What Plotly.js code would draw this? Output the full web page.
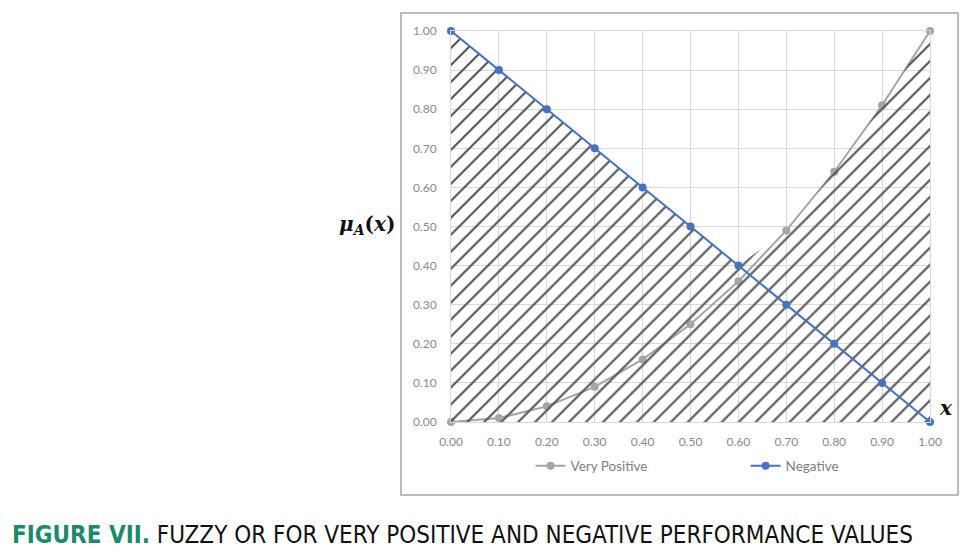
<!DOCTYPE html>
<html>
<head>
<meta charset="utf-8">
<script src="https://cdn.plot.ly/plotly-3.0.1.min.js"></script>
<style>html,body{margin:0;padding:0;background:#fff;}#chart{width:980px;height:555px;}</style>
</head>
<body>
<div id="chart"></div>
<script>
const xValues = [0.00, 0.10, 0.20, 0.30, 0.40, 0.50, 0.60, 0.70, 0.80, 0.90, 1.00];
const veryPositive = [0.00, 0.01, 0.04, 0.09, 0.16, 0.25, 0.36, 0.49, 0.64, 0.81, 1.00];
const negative = [1.00, 0.90, 0.80, 0.70, 0.60, 0.50, 0.40, 0.30, 0.20, 0.10, 0.00];
const tickValues = [0.00, 0.10, 0.20, 0.30, 0.40, 0.50, 0.60, 0.70, 0.80, 0.90, 1.00];
const tickLabels = ["0.00","0.10","0.20","0.30","0.40","0.50","0.60","0.70","0.80","0.90","1.00"];
const seriesNames = ["Very Positive", "Negative"];

// fuzzy OR = max of the two series
const fuzzyOr = xValues.map((_, i) => Math.max(veryPositive[i], negative[i]));

const tickFont = {family: "Lato, 'Open Sans', sans-serif", size: 12, color: "#8a8a8a"};
const legendFont = {family: "Lato, 'Open Sans', sans-serif", size: 13.5, color: "#7f7f7f"};

const traces = [
  {
    x: xValues, y: veryPositive, name: seriesNames[0], type: "scatter", mode: "lines+markers",
    line: {color: "#a5a5a5", width: 2}, marker: {color: "#a5a5a5", size: 8},
    cliponaxis: false, legend: "legend"
  },
  {
    x: xValues, y: fuzzyOr, type: "scatter", mode: "none", fill: "tozeroy",
    fillcolor: "rgba(0,0,0,0)",
    fillpattern: {shape: "/", fgcolor: "#555555", bgcolor: "rgba(0,0,0,0)", size: 12, solidity: 0.18},
    showlegend: false, hoverinfo: "skip"
  },
  {
    x: xValues, y: negative, name: seriesNames[1], type: "scatter", mode: "lines+markers",
    line: {color: "#4472c4", width: 2}, marker: {color: "#4472c4", size: 8},
    cliponaxis: false, legend: "legend2"
  }
];

const layout = {
  width: 980, height: 555,
  margin: {l: 451, r: 50, t: 31, b: 133},
  paper_bgcolor: "#ffffff", plot_bgcolor: "#ffffff",
  xaxis: {
    range: [0, 1], tickvals: tickValues, ticktext: tickLabels,
    showgrid: true, gridcolor: "#d9d9d9", gridwidth: 1, zeroline: false,
    showline: true, linecolor: "#d9d9d9", mirror: true,
    ticks: "", ticklabelstandoff: 9, tickfont: tickFont, fixedrange: true
  },
  yaxis: {
    range: [0, 1], tickvals: tickValues, ticktext: tickLabels,
    showgrid: true, gridcolor: "#d9d9d9", gridwidth: 1, zeroline: false,
    showline: true, linecolor: "#d9d9d9", mirror: true,
    ticks: "", ticklabelstandoff: 11, tickfont: tickFont, fixedrange: true
  },
  showlegend: true,
  legend: {
    orientation: "h", x: 0.166, xanchor: "left", y: -0.1125, yanchor: "middle",
    font: legendFont, itemwidth: 30, bgcolor: "rgba(0,0,0,0)"
  },
  legend2: {
    orientation: "h", x: 0.615, xanchor: "left", y: -0.1125, yanchor: "middle",
    font: legendFont, itemwidth: 30, bgcolor: "rgba(0,0,0,0)"
  },
  shapes: [
    {type: "rect", xref: "paper", yref: "paper", x0: -0.1044, x1: 1.0585, y0: -0.1867, y1: 1.046,
     line: {color: "#a6a6a6", width: 1.5}, fillcolor: "rgba(0,0,0,0)", layer: "below"}
  ],
  annotations: [
    {xref: "paper", yref: "paper", x: -0.175, y: 0.505, xanchor: "center", yanchor: "middle", showarrow: false,
     text: "<b><i>μ</i></b><sub><b><i>A</i></b></sub><b>(<i>x</i>)</b>",
     font: {family: "'DejaVu Serif', 'Liberation Serif', serif", size: 20, color: "#111111"}},
    {xref: "paper", yref: "paper", x: 1.015, y: 0.035, xanchor: "left", yanchor: "middle", showarrow: false,
     text: "<b><i>x</i></b>",
     font: {family: "'DejaVu Serif', 'Liberation Serif', serif", size: 20, color: "#111111"}},
    {xref: "paper", yref: "paper", x: -0.921, y: -0.289, xanchor: "left", yanchor: "middle", showarrow: false,
     text: "<b><span style='color:#1b8a6b'>FIGURE VII.</span></b> FUZZY OR FOR VERY POSITIVE AND NEGATIVE PERFORMANCE VALUES",
     font: {family: "'Liberation Sans Narrow', 'DejaVu Sans Condensed', 'Roboto Condensed', sans-serif", size: 24, color: "#111111"}}
  ]
};

Plotly.newPlot("chart", traces, layout, {displayModeBar: false, staticPlot: true});
</script>
</body>
</html>
